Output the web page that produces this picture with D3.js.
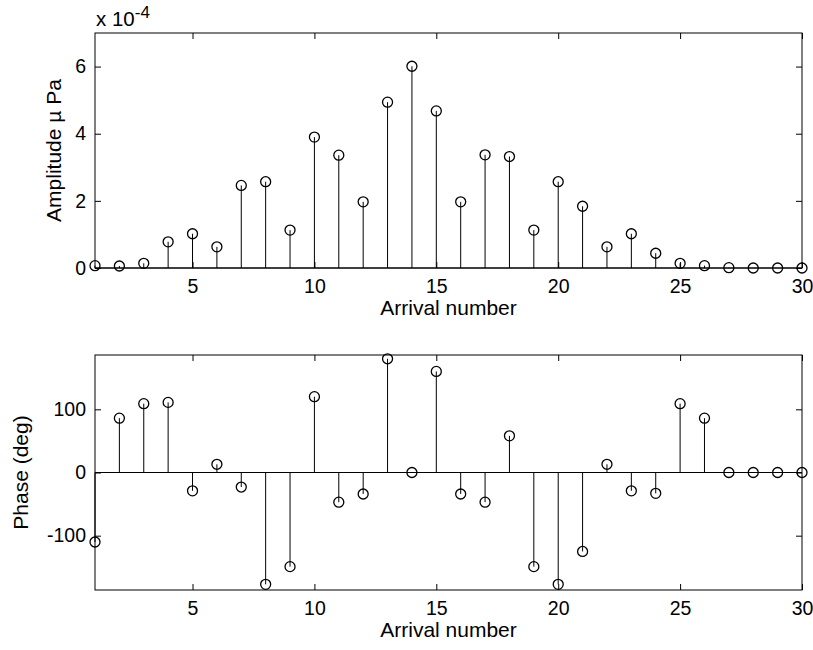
<!DOCTYPE html>
<html>
<head>
<meta charset="utf-8">
<script src="https://cdn.jsdelivr.net/npm/d3@7"></script>
<style>
  body { margin: 0; background: #fff; }
  svg { display: block; }
  text { font-family: "Liberation Sans", Arial, Helvetica, sans-serif; fill: #000; }
</style>
</head>
<body>
<svg width="813" height="650"></svg>
<script>
var svg = d3.select("svg");

// arrival numbers (x categories)
var arrival = [1,2,3,4,5,6,7,8,9,10,11,12,13,14,15,16,17,18,19,20,21,22,23,24,25,26,27,28,29,30];
// amplitude, in units of 1e-4 micro Pa
var amplitude = [0.07,0.06,0.14,0.78,1.02,0.63,2.46,2.57,1.13,3.90,3.36,1.97,4.94,6.01,4.68,
                 1.97,3.37,3.32,1.13,2.57,1.84,0.63,1.02,0.44,0.14,0.07,0.01,0,0,0];
// phase in degrees
var phase = [-110,86,109,111,-29,13,-23,-177,-149,120,-47,-34,180,0,160,
             -34,-47,58,-149,-177,-125,13,-29,-33,109,86,0,0,0,0];

var xTicks = [5,10,15,20,25,30];
var ampTicks = [0,2,4,6];
var phaseTicks = [-100,0,100];

var left = 95, right = 802;
var plain = function(d) { return String(d); };

function panel(values, top, bottom, yDomain, yTicks, yLabel, labelX) {
  var g = svg.append("g");
  var x = d3.scaleLinear().domain([1, 30]).range([left, right]);
  var y = d3.scaleLinear().domain(yDomain).range([bottom, top]);

  // ticks pointing inward on all four sides
  g.append("g").attr("transform", "translate(0," + bottom + ")")
    .call(d3.axisBottom(x).tickValues(xTicks).tickFormat(plain).tickSize(-6).tickSizeOuter(0).tickPadding(11))
    .call(function(a) { a.select(".domain").remove(); });
  g.append("g").attr("transform", "translate(0," + top + ")")
    .call(d3.axisTop(x).tickValues(xTicks).tickSize(-6).tickSizeOuter(0).tickFormat(""))
    .call(function(a) { a.select(".domain").remove(); });
  g.append("g").attr("transform", "translate(" + left + ",0)")
    .call(d3.axisLeft(y).tickValues(yTicks).tickFormat(plain).tickSize(-6).tickSizeOuter(0).tickPadding(9))
    .call(function(a) { a.select(".domain").remove(); });
  g.append("g").attr("transform", "translate(" + right + ",0)")
    .call(d3.axisRight(y).tickValues(yTicks).tickSize(-6).tickSizeOuter(0).tickFormat(""))
    .call(function(a) { a.select(".domain").remove(); });
  g.selectAll(".tick line").attr("stroke", "#000");
  g.selectAll(".tick text").attr("font-size", null).attr("font-family", null).style("font-size", "19.5px");

  g.append("rect")
    .attr("x", left).attr("y", top)
    .attr("width", right - left).attr("height", bottom - top)
    .attr("fill", "none").attr("stroke", "#000").attr("stroke-width", 1);

  // baseline at zero
  g.append("line")
    .attr("x1", x(1)).attr("x2", x(30))
    .attr("y1", y(0)).attr("y2", y(0))
    .attr("stroke", "#000");

  g.selectAll(".stem").data(values).enter().append("line")
    .attr("class", "stem")
    .attr("x1", function(d, i) { return x(arrival[i]); })
    .attr("x2", function(d, i) { return x(arrival[i]); })
    .attr("y1", y(0))
    .attr("y2", function(d) { return y(d); })
    .attr("stroke", "#000");

  g.selectAll(".pt").data(values).enter().append("circle")
    .attr("class", "pt")
    .attr("cx", function(d, i) { return x(arrival[i]); })
    .attr("cy", function(d) { return y(d); })
    .attr("r", 5)
    .attr("fill", "none")
    .attr("stroke", "#000")
    .attr("stroke-width", 1.3);

  g.append("text")
    .attr("x", (left + right) / 2)
    .attr("y", bottom + 47)
    .attr("text-anchor", "middle")
    .style("font-size", "21px")
    .text("Arrival number");

  g.append("text")
    .attr("transform", "translate(" + labelX + "," + ((top + bottom) / 2) + ") rotate(-90)")
    .attr("text-anchor", "middle")
    .style("font-size", "21px")
    .text(yLabel);

  return g;
}

var top1 = panel(amplitude, 33, 268, [0, 7], ampTicks, "Amplitude \u00b5 Pa", 61);
panel(phase, 355, 590, [-186, 186], phaseTicks, "Phase (deg)", 28);

// exponent note above the top panel
var ex = top1.append("text").attr("x", 96).attr("y", 26).style("font-size", "20.5px");
ex.append("tspan").text("x 10");
ex.append("tspan").attr("dy", -8).style("font-size", "17px").text("-4");
</script>
</body>
</html>
